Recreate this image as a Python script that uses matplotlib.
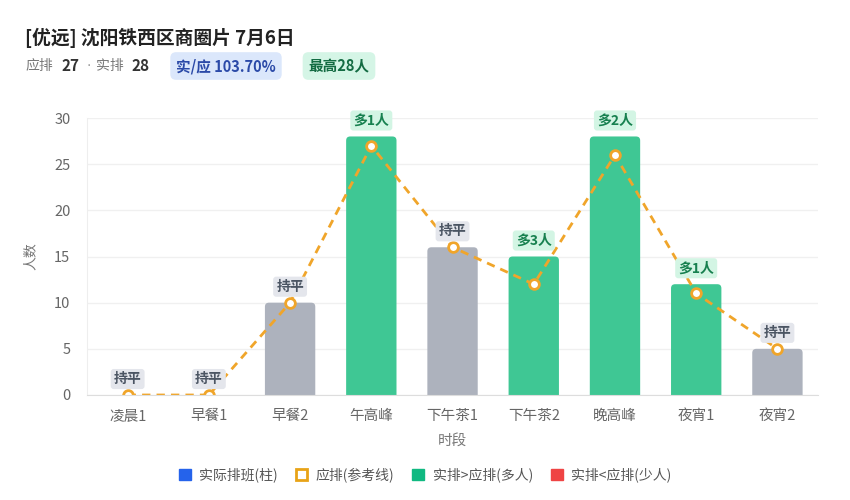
import matplotlib
matplotlib.use("Agg")
import matplotlib.pyplot as plt
from matplotlib.patches import Patch, FancyBboxPatch
import numpy as np

plt.rcParams['font.family'] = ['Noto Sans CJK SC', 'DejaVu Sans']

# data
slots = ['凌晨1', '早餐1', '早餐2', '午高峰', '下午茶1', '下午茶2', '晚高峰', '夜宵1', '夜宵2']
actual = [0, 0, 10, 28, 16, 15, 28, 12, 5]
required = [0, 0, 10, 27, 16, 12, 26, 11, 5]
title = '[优远] 沈阳铁西区商圈片 7月6日'
total_req = 27
total_act = 28
ratio_text = '实/应 103.70%'
peak_text = '最高28人'

GREEN = '#3fc794'
GREY = '#adb2bd'
RED = '#e5484d'
ORANGE = '#f0a52a'

fig = plt.figure(figsize=(8.5, 5), dpi=100)
ax = fig.add_axes([0.1024, 0.21, 0.86, 0.554])
ax.set_xlim(-0.5, len(slots) - 0.5)
ax.set_ylim(0, 30)

x = np.arange(len(slots))
colors = []
for a, r in zip(actual, required):
    if a > r:
        colors.append(GREEN)
    elif a < r:
        colors.append(RED)
    else:
        colors.append(GREY)

# bars with rounded tops (bottom corners hidden below the axis)
bars = ax.bar(x, actual, width=0.62, color=colors, zorder=2)
px_x = ax.bbox.width / 9.0
px_y = ax.bbox.height / 30.0
aspect = px_x / px_y
for b in bars:
    h = b.get_height()
    if h <= 0:
        b.remove()
        continue
    ext = 1.0
    rp = FancyBboxPatch((b.get_x(), -ext), b.get_width(), h + ext,
                        boxstyle='round,pad=0,rounding_size=0.05',
                        mutation_aspect=aspect, fc=b.get_facecolor(),
                        ec='none', zorder=2)
    b.remove()
    ax.add_patch(rp)

ax.plot(x, required, color=ORANGE, lw=2, ls=(0, (3, 2.2)), marker='o',
        markersize=7, markerfacecolor='white', markeredgecolor=ORANGE,
        markeredgewidth=2, zorder=3)

# labels above bars
for i, (a, r) in enumerate(zip(actual, required)):
    diff = a - r
    top = max(a, r)
    if diff > 0:
        txt, fc, tc = '多%d人' % diff, '#d3f5e4', '#17804f'
    elif diff < 0:
        txt, fc, tc = '少%d人' % (-diff), '#fde2e2', '#b91c1c'
    else:
        txt, fc, tc = '持平', '#e4e6ec', '#4b5563'
    ax.annotate(txt, (i, top), xytext=(0, 11.5), textcoords='offset points',
                ha='center', va='center', fontsize=10, fontweight='bold', color=tc,
                bbox=dict(boxstyle='round,pad=0.22', fc=fc, ec='none'),
                zorder=4, annotation_clip=False)

ax.set_yticks([0, 5, 10, 15, 20, 25, 30])
ax.set_xticks(x)
ax.set_xticklabels(slots)
ax.tick_params(length=0, labelsize=10.5, colors='#666666')
ax.tick_params(axis='x', pad=10)
ax.tick_params(axis='y', pad=12)
ax.grid(axis='y', color='#f0f0f0', lw=1, zorder=0)
for s in ['top', 'right']:
    ax.spines[s].set_visible(False)
ax.spines['left'].set_color('#eeeeee')
ax.spines['bottom'].set_color('#dddddd')
ax.spines['bottom'].set_zorder(5)
ax.set_ylabel('人数', color='#777777', fontsize=10, labelpad=12)
ax.set_xlabel('时段', color='#777777', fontsize=10.5, labelpad=8)

# header
fig.text(25 / 850, 1 - 38 / 500, title, fontsize=13.5, fontweight='bold',
         color='#222222', va='center', ha='left')
yl = 1 - 66 / 500
fig.text(25 / 850, yl, '应排', fontsize=10, color='#777777', va='center')
fig.text(61 / 850, yl, str(total_req), fontsize=11, fontweight='bold', color='#333333', va='center')
fig.text(89 / 850, yl, '·', fontsize=10, color='#999999', va='center', ha='center',
         family='DejaVu Sans')
fig.text(96 / 850, yl, '实排', fontsize=10, color='#777777', va='center')
fig.text(132 / 850, yl, str(total_act), fontsize=11, fontweight='bold', color='#333333', va='center')
fig.text(226 / 850, yl, ratio_text, fontsize=10.5, fontweight='bold', color='#2b4aa8',
         va='center', ha='center',
         bbox=dict(boxstyle='round,pad=0.4', fc='#dbe7fb', ec='none'))
fig.text(339 / 850, yl, peak_text, fontsize=10.5, fontweight='bold', color='#146c43',
         va='center', ha='center',
         bbox=dict(boxstyle='round,pad=0.4', fc='#d5f5e6', ec='none'))

# legend
handles = [
    Patch(facecolor='#2563eb', edgecolor='#2563eb'),
    Patch(facecolor='white', edgecolor='#e8a317', lw=2),
    Patch(facecolor='#10b981', edgecolor='#10b981'),
    Patch(facecolor='#ef4444', edgecolor='#ef4444'),
]
names = ['实际排班(柱)', '应排(参考线)', '实排>应排(多人)', '实排<应排(少人)']
leg = fig.legend(handles, names, loc='center', bbox_to_anchor=(0.5, 1 - 475 / 500),
                 ncol=4, frameon=False, fontsize=10, handlelength=0.85,
                 handleheight=0.85, handletextpad=0.6, columnspacing=1.3)
for t in leg.get_texts():
    t.set_color('#555555')

fig.savefig('out.png', dpi=100, facecolor='white')
